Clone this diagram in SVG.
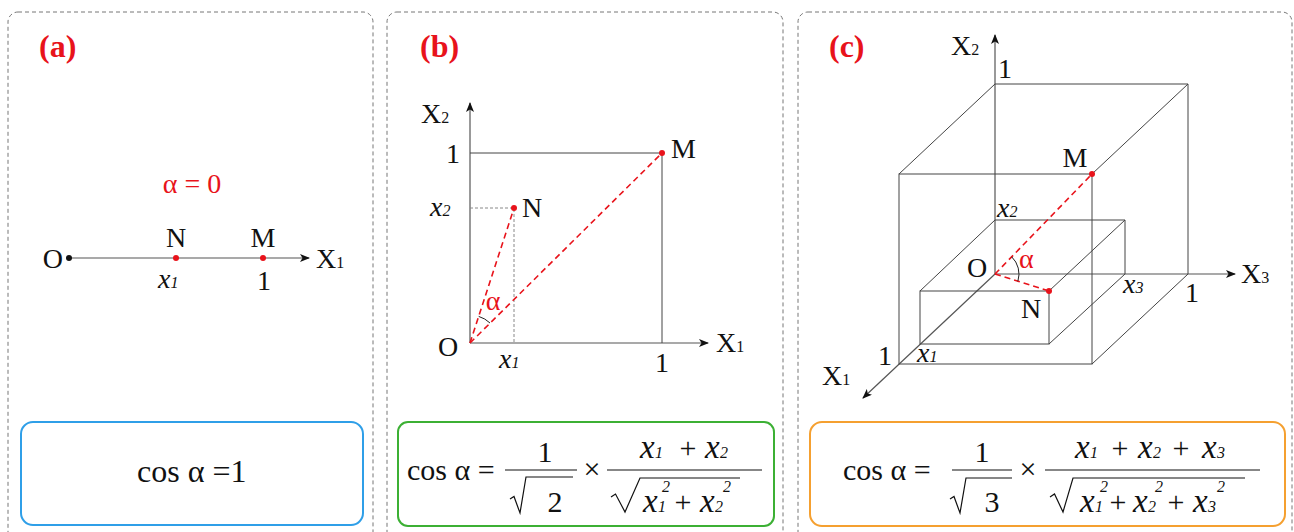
<svg xmlns="http://www.w3.org/2000/svg" width="1294" height="532" viewBox="0 0 1294 532">
<defs>
<marker id="arr" viewBox="0 0 10 8" refX="9" refY="4" markerWidth="10" markerHeight="8" markerUnits="userSpaceOnUse" orient="auto">
<path d="M0,0 L10,4 L0,8 L2.5,4 z" fill="#111"/>
</marker>
<style>
.pb{fill:none;stroke:#777;stroke-width:1;stroke-dasharray:4 3}
.ax{fill:none;stroke:#555;stroke-width:1.2}
.ln{fill:none;stroke:#444;stroke-width:1}
.gd{fill:none;stroke:#888;stroke-width:1;stroke-dasharray:3 2}
.rd{fill:none;stroke:#e8131b;stroke-width:1.6;stroke-dasharray:6 4}
.dot{fill:#e8131b}
.arc{fill:none;stroke:#222;stroke-width:1}
text{font-family:'Liberation Serif','DejaVu Serif',serif}
.t{font-size:28px;fill:#111}
.f{font-size:30px;fill:#111}
.v{font-size:33px}
.i{font-style:italic}
.s{font-size:16px}
.r{fill:#e8131b}
.lab{font-size:32px;font-weight:bold;fill:#e8131b}
.m{text-anchor:middle}
.e{text-anchor:end}
.rule{fill:none;stroke:#111;stroke-width:1.2}
</style>
</defs>

<g id="panels">
<rect class="pb" x="8" y="12" width="365" height="545" rx="10"/>
<rect class="pb" x="387" y="12" width="396" height="545" rx="10"/>
<rect class="pb" x="798" y="12" width="494" height="545" rx="10"/>
</g>

<g id="connectors">
<line class="ax" x1="69" y1="258" x2="309" y2="258" marker-end="url(#arr)"/>
<line class="ax" x1="470" y1="343" x2="470" y2="103" marker-end="url(#arr)"/>
<line class="ax" x1="470" y1="343" x2="708" y2="343" marker-end="url(#arr)"/>
<polyline class="ln" points="470,153 662,153 662,343"/>
<polyline class="gd" points="470,208 514,208 514,343"/>
<line class="rd" x1="470" y1="343" x2="514" y2="208"/>
<line class="rd" x1="470" y1="343" x2="662" y2="153"/>
<path class="arc" d="M478.7,316.4 A28,28 0 0 1 490,323"/>
<line class="ax" x1="995" y1="274" x2="995" y2="35" marker-end="url(#arr)"/>
<line class="ax" x1="995" y1="274" x2="1235" y2="274" marker-end="url(#arr)"/>
<line class="ax" x1="995" y1="274" x2="863" y2="398" marker-end="url(#arr)"/>
<polyline class="ln" points="899,174 995,84 1188,84 1188,274 1092,364"/>
<line class="ln" x1="1188" y1="84" x2="1092" y2="174"/>
<rect class="ln" x="899" y="174" width="193" height="190"/>
<polyline class="ln" points="920,291 995,220 1125,220 1125,274 1049,344"/>
<line class="ln" x1="1125" y1="220" x2="1049" y2="291"/>
<rect class="ln" x="920" y="291" width="129" height="53"/>
<line class="rd" x1="995" y1="274" x2="1092" y2="174"/>
<line class="rd" x1="995" y1="274" x2="1049" y2="291"/>
<path class="arc" d="M1011.7,256.8 A24,24 0 0 1 1017.9,281.2"/>
</g>

<g id="panel-a">
<text class="lab" x="39" y="57">(a)</text>
<text class="t r m" x="192" y="193">α = 0</text>
<circle cx="69" cy="258" r="3" fill="#111"/>
<circle class="dot" cx="176" cy="258" r="3"/>
<circle class="dot" cx="263" cy="258" r="3"/>
<text class="t e" x="63" y="268">O</text>
<text class="t m" x="176" y="247">N</text>
<text class="t m" x="263" y="247">M</text>
<text class="t" x="316" y="268">X<tspan class="s">1</tspan></text>
<text class="t i" x="158" y="288">x<tspan class="s">1</tspan></text>
<text class="t m" x="264" y="290">1</text>
</g>

<g id="panel-b">
<text class="lab" x="420" y="57">(b)</text>
<circle class="dot" cx="514" cy="208" r="3"/>
<circle class="dot" cx="662" cy="153" r="3"/>
<text class="t" x="421" y="123">X<tspan class="s">2</tspan></text>
<text class="t m" x="453" y="163">1</text>
<text class="t i" x="430" y="216">x<tspan class="s">2</tspan></text>
<text class="t" x="522" y="217">N</text>
<text class="t" x="671" y="158">M</text>
<text class="t" x="438" y="356">O</text>
<text class="t i" x="499" y="368">x<tspan class="s">1</tspan></text>
<text class="t m" x="662" y="372">1</text>
<text class="t" x="716" y="352">X<tspan class="s">1</tspan></text>
<text class="t r m" x="493" y="310">α</text>
</g>

<g id="panel-c">
<text class="lab" x="829" y="57">(c)</text>
<circle class="dot" cx="1092" cy="174" r="3"/>
<circle class="dot" cx="1049" cy="291" r="3"/>
<text class="t" x="951" y="55">X<tspan class="s">2</tspan></text>
<text class="t m" x="1005" y="78">1</text>
<text class="t m" x="1075" y="167">M</text>
<text class="t i" x="997" y="217">x<tspan class="s">2</tspan></text>
<text class="t" x="967" y="277">O</text>
<text class="t r" x="1019" y="268">α</text>
<text class="t i" x="1123" y="293">x<tspan class="s">3</tspan></text>
<text class="t m" x="1192" y="302">1</text>
<text class="t" x="1241" y="283">X<tspan class="s">3</tspan></text>
<text class="t m" x="1031" y="318">N</text>
<text class="t m" x="885" y="365">1</text>
<text class="t i" x="917" y="362">x<tspan class="s">1</tspan></text>
<text class="t" x="822" y="385">X<tspan class="s">1</tspan></text>
</g>

<g id="formula-a">
<rect x="21" y="422" width="342" height="103" rx="12" fill="none" stroke="#2f9fe8" stroke-width="2"/>
<text class="f" x="137" y="482" style="font-size:32px">cos α =1</text>
</g>

<g id="formula-b">
<rect x="398" y="422" width="376" height="104" rx="10" fill="none" stroke="#3cb034" stroke-width="2"/>
<text class="f" x="407" y="480">cos α =</text>
<text class="f m" x="545" y="462">1</text>
<line class="rule" x1="505" y1="470" x2="577" y2="470"/>
<path class="rule" d="M510,499 L514,496.5 L520,513 L526,477 L573,477"/>
<text class="f m" x="555" y="512">2</text>
<text class="f m" x="592" y="479">×</text>
<line class="rule" x1="607" y1="470" x2="762" y2="470"/>
<text class="f i" y="458"><tspan class="v" x="640">x</tspan><tspan class="s" x="655">1</tspan></text>
<text class="f m" x="688" y="458">+</text>
<text class="f i" y="458"><tspan class="v" x="705">x</tspan><tspan class="s" x="720">2</tspan></text>
<path class="rule" d="M611,497 L615.5,494 L625,512 L640,478 L740,478"/>
<text class="f i" y="512"><tspan class="v" x="643">x</tspan><tspan class="s" x="658">1</tspan></text>
<text class="f s i" x="662" y="492">2</text>
<text class="f m" x="683" y="512">+</text>
<text class="f i" y="512"><tspan class="v" x="700">x</tspan><tspan class="s" x="715">2</tspan></text>
<text class="f s i" x="723" y="492">2</text>
</g>

<g id="formula-c">
<rect x="810" y="422" width="475" height="104" rx="12" fill="none" stroke="#f5a030" stroke-width="2"/>
<text class="f" x="843" y="480">cos α =</text>
<text class="f m" x="982" y="462">1</text>
<line class="rule" x1="952" y1="470" x2="1012" y2="470"/>
<path class="rule" d="M950,499 L954,496.5 L960,513 L966,478 L1012,478"/>
<text class="f m" x="992" y="512">3</text>
<text class="f m" x="1028" y="479">×</text>
<line class="rule" x1="1045" y1="470" x2="1260" y2="470"/>
<text class="f i" y="458"><tspan class="v" x="1075">x</tspan><tspan class="s" x="1090">1</tspan></text>
<text class="f m" x="1120" y="458">+</text>
<text class="f i" y="458"><tspan class="v" x="1138">x</tspan><tspan class="s" x="1153">2</tspan></text>
<text class="f m" x="1181" y="458">+</text>
<text class="f i" y="458"><tspan class="v" x="1202">x</tspan><tspan class="s" x="1217">3</tspan></text>
<path class="rule" d="M1050,497 L1054.5,494 L1063,512 L1073,478 L1245,478"/>
<text class="f i" y="512"><tspan class="v" x="1080">x</tspan><tspan class="s" x="1095">1</tspan></text>
<text class="f s i" x="1100" y="492">2</text>
<text class="f m" x="1118" y="512">+</text>
<text class="f i" y="512"><tspan class="v" x="1133">x</tspan><tspan class="s" x="1148">2</tspan></text>
<text class="f s i" x="1155" y="492">2</text>
<text class="f m" x="1176" y="512">+</text>
<text class="f i" y="512"><tspan class="v" x="1193">x</tspan><tspan class="s" x="1208">3</tspan></text>
<text class="f s i" x="1217" y="492">2</text>
</g>
</svg>
